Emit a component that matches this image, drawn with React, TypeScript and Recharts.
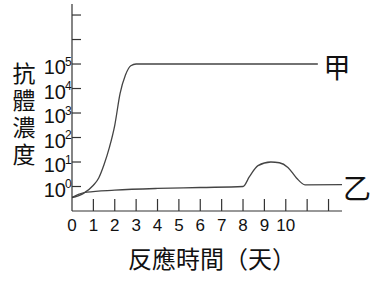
import React from "react";
import { LineChart, Line, XAxis, YAxis } from "recharts";

const xTicks = [0, 1, 2, 3, 4, 5, 6, 7, 8, 9, 10, 11, 12];
const xLabels = ["0", "1", "2", "3", "4", "5", "6", "7", "8", "9", "10"];
const yTicks = [0, 1, 2, 3, 4, 5, 6, 7];
const yLabelExps = ["0", "1", "2", "3", "4", "5"];

// log10 of antibody concentration
const jiaDays = [0, 0.5, 1, 1.25, 1.5, 1.75, 2, 2.25, 2.5, 2.75, 3, 11.5];
const jiaLog = [-0.45, -0.3, 0.05, 0.35, 0.9, 1.6, 2.5, 3.8, 4.55, 4.93, 5.0, 5.0];

const yiDays = [0, 0.3, 0.7, 2, 4, 6, 8, 8.3, 8.7, 9.3, 9.7, 10.1, 10.5, 10.9, 12.65];
const yiLog = [-0.45, -0.32, -0.23, -0.15, -0.08, -0.04, 0, 0.4, 0.85, 1.0, 0.97, 0.78, 0.35, 0.07, 0.08];

const jiaData = jiaDays.map((x, i) => ({ x, y: jiaLog[i] }));
const yiData = yiDays.map((x, i) => ({ x, y: yiLog[i] }));

const yTitle = "抗體濃度";
const xTitle = "反應時間（天）";
const seriesNames = ["甲", "乙"];

const NUM_FONT = "'Liberation Sans', Arial, sans-serif";
const CJK_FONT = "'Noto Sans CJK TC', 'Noto Sans CJK SC', sans-serif";
const AXIS = "#333";

const XTick = (props: any) => {
  const { x, y, payload } = props;
  const v = payload.value;
  const label = xLabels[v];
  return (
    <g>
      {v > 0 && <line x1={x} x2={x} y1={y} y2={y - 12} stroke={AXIS} strokeWidth={1.2} />}
      {label !== undefined && (
        <text x={x} y={y + 20} textAnchor="middle" fontSize={17} fontFamily={NUM_FONT} fill="#111">
          {label}
        </text>
      )}
    </g>
  );
};

const YTick = (props: any) => {
  const { x, y, payload } = props;
  const v = payload.value;
  const exp = yLabelExps[v];
  return (
    <g>
      <line x1={x} x2={x + 9} y1={y} y2={y} stroke={AXIS} strokeWidth={1.2} />
      {exp !== undefined && (
        <g fontFamily={NUM_FONT} fill="#111">
          <text x={x - 6} y={y + 10} textAnchor="end" fontSize={20}>
            10
          </text>
          <text x={x - 7} y={y + 1.5} textAnchor="start" fontSize={12}>
            {exp}
          </text>
        </g>
      )}
    </g>
  );
};

export default function App() {
  return (
    <div style={{ position: "absolute", left: 0, top: 0, width: 388, height: 288, background: "#fff" }}>
      <LineChart
        width={388}
        height={288}
        margin={{ top: 4, right: 46, bottom: 0, left: 0 }}
      >
        <XAxis
          type="number"
          dataKey="x"
          domain={[0, 12.63]}
          ticks={xTicks}
          height={77}
          tickSize={0}
          tickMargin={0}
          tickLine={false}
          axisLine={{ stroke: AXIS, strokeWidth: 1.2 }}
          tick={<XTick />}
          interval={0}
          allowDataOverflow
        />
        <YAxis
          type="number"
          dataKey="y"
          domain={[-1, 7.45]}
          ticks={yTicks}
          width={72}
          tickSize={0}
          tickMargin={0}
          tickLine={false}
          axisLine={{ stroke: AXIS, strokeWidth: 1.2 }}
          tick={<YTick />}
          interval={0}
          allowDataOverflow
        />
        <Line
          data={jiaData}
          dataKey="y"
          type="monotone"
          stroke="#444"
          strokeWidth={1.3}
          dot={false}
          isAnimationActive={false}
        />
        <Line
          data={yiData}
          dataKey="y"
          type="monotone"
          stroke="#444"
          strokeWidth={1.3}
          dot={false}
          isAnimationActive={false}
        />
      </LineChart>
      <svg
        width={388}
        height={288}
        style={{ position: "absolute", left: 0, top: 0, pointerEvents: "none" }}
      >
        <g fontFamily={CJK_FONT} fill="#111">
          <text
            x={24}
            y={62}
            textAnchor="start"
            fontSize={23}
            letterSpacing={4}
            style={{ writingMode: "vertical-rl" as any }}
          >
            {yTitle}
          </text>
          <text x={128} y={257.5} textAnchor="start" dominantBaseline="central" fontSize={24}>
            {xTitle}
          </text>
          <text x={337} y={66} textAnchor="middle" dominantBaseline="central" fontSize={27}>
            {seriesNames[0]}
          </text>
          <text x={357} y={187} textAnchor="middle" dominantBaseline="central" fontSize={28}>
            {seriesNames[1]}
          </text>
        </g>
      </svg>
    </div>
  );
}
